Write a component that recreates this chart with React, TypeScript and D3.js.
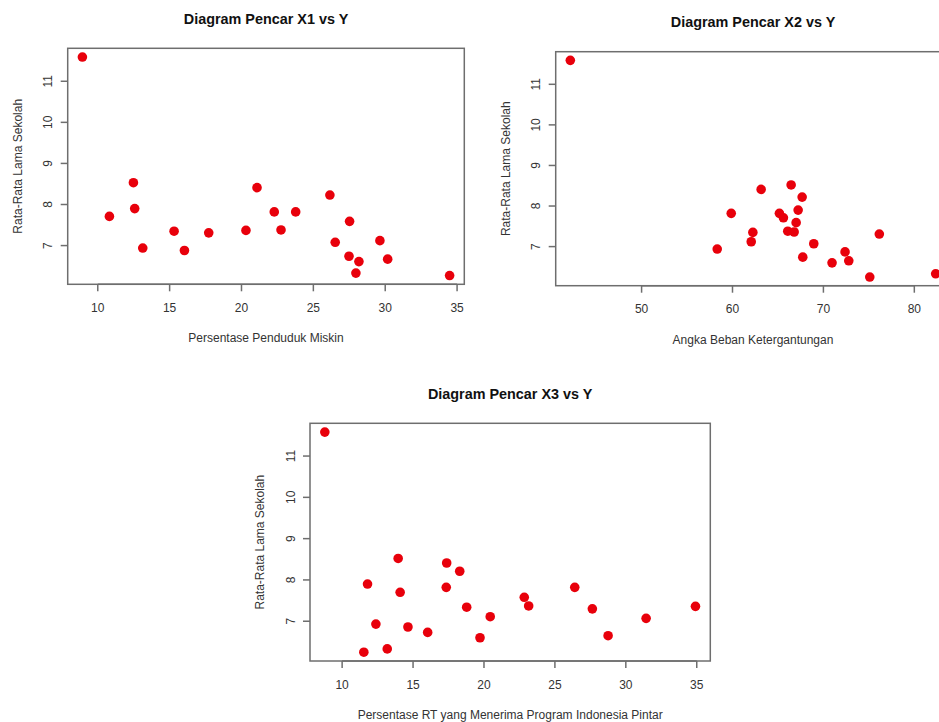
import React from "react";
import * as d3 from "d3";

const yTicks = [7, 8, 9, 10, 11];

const x1 = [8.93, 10.81, 12.48, 12.57, 13.13, 15.31, 16.03, 17.72, 20.31, 21.08, 22.28, 22.75, 23.77, 26.15, 26.52, 27.52, 27.48, 28.17, 27.96, 29.63, 30.17, 34.48];
const y1 = [11.59, 7.71, 8.53, 7.9, 6.94, 7.35, 6.88, 7.31, 7.37, 8.41, 7.82, 7.38, 7.82, 8.23, 7.08, 7.59, 6.74, 6.61, 6.33, 7.12, 6.67, 6.27];
const x1Ticks = [10, 15, 20, 25, 30, 35];

const x2 = [42.16, 58.32, 59.86, 62.06, 62.24, 63.15, 65.16, 65.6, 66.08, 66.45, 66.78, 67.0, 67.22, 67.66, 67.73, 68.94, 70.95, 72.38, 72.79, 75.1, 76.15, 82.35];
const y2 = [11.59, 6.94, 7.82, 7.12, 7.35, 8.41, 7.82, 7.71, 7.38, 8.52, 7.36, 7.59, 7.9, 8.22, 6.74, 7.07, 6.6, 6.87, 6.65, 6.25, 7.31, 6.33];
const x2Ticks = [50, 60, 70, 80];

const x3 = [8.78, 11.53, 11.79, 12.38, 13.18, 13.95, 14.09, 14.64, 16.03, 17.37, 17.34, 18.29, 18.78, 19.72, 20.44, 22.84, 23.15, 26.4, 27.64, 28.75, 31.43, 34.91];
const y3 = [11.58, 6.25, 7.9, 6.93, 6.33, 8.52, 7.7, 6.86, 6.73, 8.41, 7.82, 8.21, 7.34, 6.6, 7.11, 7.58, 7.37, 7.82, 7.3, 6.65, 7.07, 7.36];
const x3Ticks = [10, 15, 20, 25, 30, 35];

const yLabel = "Rata-Rata Lama Sekolah";

function rDomain(v: number[]): [number, number] {
  const [a, b] = d3.extent(v) as [number, number];
  const p = (b - a) * 0.04;
  return [a - p, b + p];
}

const FONT = "'Liberation Sans', Arial, Helvetica, sans-serif";
const BOX = "#6e6e6e";
const TXT = "#333";
const PT = "#e8000b";

type PanelProps = {
  xs: number[];
  ys: number[];
  xTicks: number[];
  title: string;
  xLabel: string;
  left: number;
  right: number;
  top: number;
  bottom: number;
};

function Panel({ xs, ys, xTicks, title, xLabel, left, right, top, bottom }: PanelProps) {
  const x = d3.scaleLinear().domain(rDomain(xs)).range([left, right]);
  const y = d3.scaleLinear().domain(rDomain(ys)).range([bottom, top]);
  const cx = (left + right) / 2;
  const cy = (top + bottom) / 2;
  const tl = 7;
  const sw = 1.5;
  return (
    <g fontFamily={FONT}>
      <text x={cx} y={top - 24.5} textAnchor="middle" fontSize={14.4} fontWeight="bold" fill="#111">
        {title}
      </text>
      <rect x={left} y={top} width={right - left} height={bottom - top} fill="none" stroke={BOX} strokeWidth={sw} />
      <line x1={x(xTicks[0])} x2={x(xTicks[xTicks.length - 1])} y1={bottom} y2={bottom} stroke={BOX} strokeWidth={sw} />
      {xTicks.map((t) => (
        <g key={"x" + t}>
          <line x1={x(t)} x2={x(t)} y1={bottom} y2={bottom + tl} stroke={BOX} strokeWidth={sw} />
          <text x={x(t)} y={bottom + 27.5} textAnchor="middle" fontSize={12} fill={TXT}>
            {t}
          </text>
        </g>
      ))}
      {yTicks.map((t) => (
        <g key={"y" + t}>
          <line x1={left - tl} x2={left} y1={y(t)} y2={y(t)} stroke={BOX} strokeWidth={sw} />
          <text
            transform={`translate(${left - 15.5},${y(t)}) rotate(-90)`}
            textAnchor="middle"
            fontSize={12}
            fill={TXT}
          >
            {t}
          </text>
        </g>
      ))}
      <text x={cx} y={bottom + 58} textAnchor="middle" fontSize={12} fill={TXT}>
        {xLabel}
      </text>
      <text transform={`translate(${left - 46},${cy}) rotate(-90)`} textAnchor="middle" fontSize={12} fill={TXT}>
        {yLabel}
      </text>
      {xs.map((v, i) => (
        <circle key={i} cx={x(v)} cy={y(ys[i])} r={4.8} fill={PT} />
      ))}
    </g>
  );
}

export default function App() {
  return (
    <svg
      width={939}
      height={722}
      style={{ position: "absolute", left: 0, top: 0, background: "#fff" }}
    >
      <rect x={0} y={0} width={939} height={722} fill="#fff" />
      <Panel xs={x1} ys={y1} xTicks={x1Ticks} title="Diagram Pencar X1 vs Y" xLabel="Persentase Penduduk Miskin" left={67.7} right={464.3} top={48.3} bottom={284.3} />
      <Panel xs={x2} ys={y2} xTicks={x2Ticks} title="Diagram Pencar X2 vs Y" xLabel="Angka Beban Ketergantungan" left={555.7} right={950.3} top={51.7} bottom={285.7} />
      <Panel xs={x3} ys={y3} xTicks={x3Ticks} title="Diagram Pencar X3 vs Y" xLabel="Persentase RT yang Menerima Program Indonesia Pintar" left={310} right={710.3} top={423.3} bottom={661} />
    </svg>
  );
}
